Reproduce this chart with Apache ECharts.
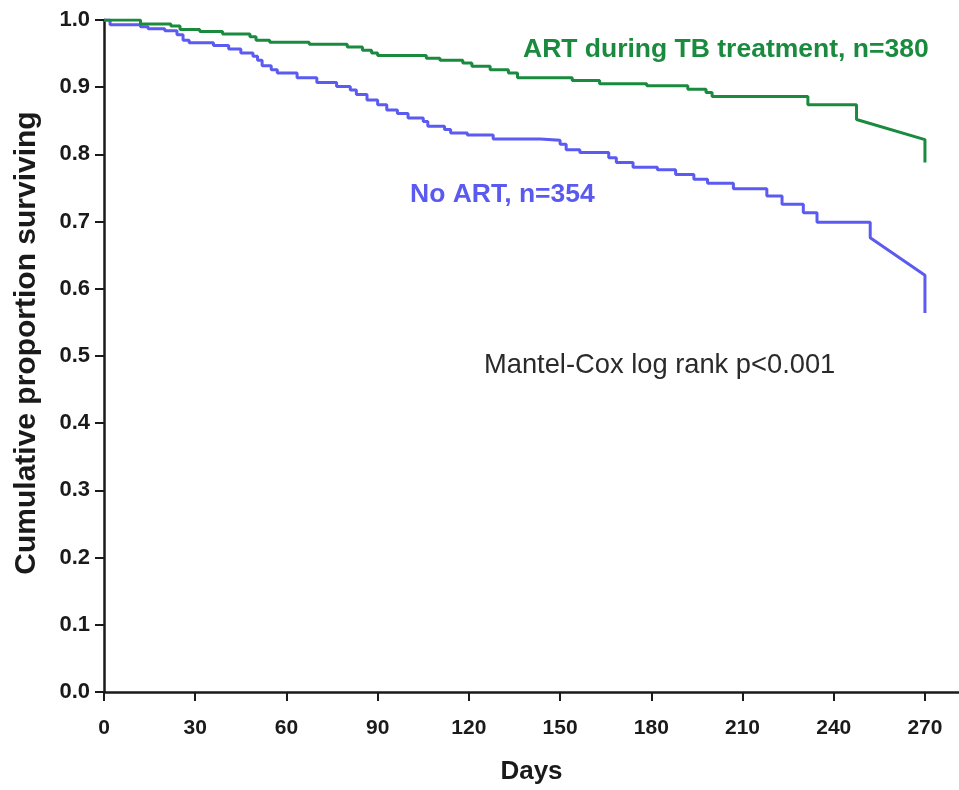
<!DOCTYPE html>
<html>
<head>
<meta charset="utf-8">
<script src="https://cdn.jsdelivr.net/npm/echarts@6/dist/echarts.min.js"></script>
<style>
html,body{margin:0;padding:0;background:#fff;}
#chart{width:959px;height:790px;}
</style>
</head>
<body>
<div id="chart"></div>
<script>
// ---- Data ----
var xTicks = [0, 30, 60, 90, 120, 150, 180, 210, 240, 270];
var yTicks = [0, 0.1, 0.2, 0.3, 0.4, 0.5, 0.6, 0.7, 0.8, 0.9, 1.0];

// ART during TB treatment: step times (days) and survival after each step
var artDays = [0, 12, 22, 25, 31.5, 39, 48, 50, 54.5, 67.5, 80, 85, 88, 90, 106, 110.5, 118, 121, 127, 133, 136, 154, 163, 178.5, 192, 198, 200, 231.5, 247.5];
var artSurv = [1.0, 0.994, 0.991, 0.986, 0.983, 0.979, 0.975, 0.970, 0.967, 0.964, 0.960, 0.955, 0.951, 0.947, 0.943, 0.940, 0.936, 0.931, 0.926, 0.921, 0.914, 0.910, 0.905, 0.902, 0.897, 0.892, 0.886, 0.874, 0.852];
var artTailDays = [270, 270];
var artTailSurv = [0.822, 0.788];

// No ART
var noArtDays = [0, 2, 12, 14.5, 20, 24, 26, 28, 36, 41, 45, 49, 50.5, 52, 55, 57, 63.5, 70, 76.5, 81, 83, 86.5, 90, 93, 96.5, 100, 105, 106.5, 112, 114, 119.5, 128, 143.5, 150, 152, 156.5, 166, 168.5, 174, 182, 188, 194, 198.5, 207, 218, 223, 230, 234.5, 252];
var noArtSurv = [1.0, 0.993, 0.990, 0.987, 0.984, 0.978, 0.970, 0.966, 0.962, 0.957, 0.951, 0.946, 0.940, 0.932, 0.926, 0.921, 0.914, 0.907, 0.901, 0.896, 0.889, 0.881, 0.874, 0.866, 0.861, 0.854, 0.849, 0.842, 0.837, 0.832, 0.829, 0.823, 0.821, 0.815, 0.807, 0.803, 0.795, 0.788, 0.781, 0.777, 0.770, 0.763, 0.757, 0.749, 0.738, 0.726, 0.713, 0.699, 0.676];
var noArtTailDays = [270, 270];
var noArtTailSurv = [0.620, 0.564];

var artLabel = 'ART during TB treatment, n=380';
var noArtLabel = 'No ART, n=354';
var testLabel = 'Mantel-Cox log rank p<0.001';
var xTitle = 'Days';
var yTitle = 'Cumulative proportion surviving';

// ---- build step polylines ----
function buildSteps(days, surv, tDays, tSurv) {
  var pts = [[days[0], surv[0]]];
  for (var i = 1; i < days.length; i++) {
    pts.push([days[i], surv[i - 1]]);
    pts.push([days[i], surv[i]]);
  }
  for (var j = 0; j < tDays.length; j++) pts.push([tDays[j], tSurv[j]]);
  return pts;
}

var GREEN = '#1a8b3e';
var BLUE = '#5b5bf2';
var FONT = "'Liberation Sans', Arial, sans-serif";

var chart = echarts.init(document.getElementById('chart'), null, {renderer: 'canvas'});
chart.setOption({
  animation: false,
  backgroundColor: '#fff',
  grid: {left: 104, top: 20, right: 0, bottom: 96, containLabel: false},
  xAxis: {
    type: 'value', min: 0, max: 281.2, interval: 30,
    name: xTitle, nameLocation: 'middle', nameGap: 67,
    nameTextStyle: {fontFamily: FONT, fontWeight: 'bold', fontSize: 26, color: '#1a1a1a'},
    axisLine: {show: true, onZero: false, lineStyle: {color: '#1a1a1a', width: 2.5}},
    axisTick: {show: true, length: 9, inside: false, customValues: xTicks, lineStyle: {color: '#1a1a1a', width: 2}},
    axisLabel: {customValues: xTicks, margin: 26, fontFamily: FONT, fontWeight: 'bold', fontSize: 21, color: '#1a1a1a'},
    splitLine: {show: false}
  },
  yAxis: {
    type: 'value', min: 0, max: 1, interval: 0.1,
    axisLine: {show: true, lineStyle: {color: '#1a1a1a', width: 2.5}},
    axisTick: {show: true, length: 9, lineStyle: {color: '#1a1a1a', width: 2}},
    axisLabel: {margin: 14, fontFamily: FONT, fontWeight: 'bold', fontSize: 22, color: '#1a1a1a',
      formatter: function (v) { return v.toFixed(1); }},
    splitLine: {show: false}
  },
  series: [
    {
      name: 'No ART', type: 'line', data: buildSteps(noArtDays, noArtSurv, noArtTailDays, noArtTailSurv),
      showSymbol: false, symbol: 'none', lineStyle: {color: BLUE, width: 3}, z: 3
    },
    {
      name: 'ART', type: 'line', data: buildSteps(artDays, artSurv, artTailDays, artTailSurv),
      showSymbol: false, symbol: 'none', lineStyle: {color: GREEN, width: 3}, z: 4
    }
  ],
  graphic: [
    {type: 'text', x: 27, y: 343, rotation: Math.PI / 2,
      style: {text: yTitle, fill: '#1a1a1a', font: 'bold 30px ' + FONT, align: 'center', verticalAlign: 'middle'}},
    {type: 'text', left: 523, top: 36, style: {text: artLabel, fill: GREEN, font: 'bold 26.5px ' + FONT}},
    {type: 'text', left: 410, top: 181, style: {text: noArtLabel, fill: '#5a5af0', font: 'bold 26.5px ' + FONT}},
    {type: 'text', left: 484, top: 352, style: {text: testLabel, fill: '#2a2a2a', font: '27.3px ' + FONT}}
  ]
});
</script>
</body>
</html>
